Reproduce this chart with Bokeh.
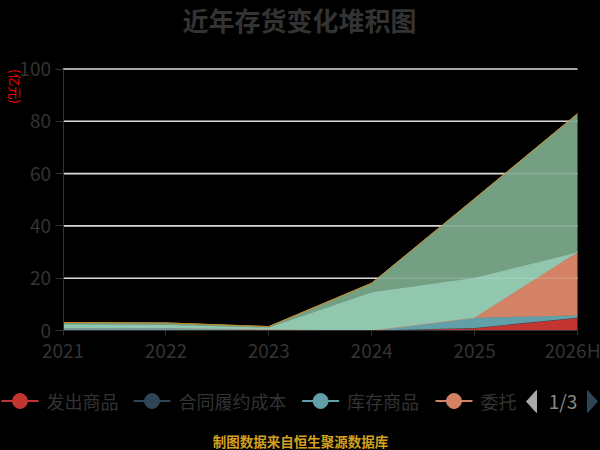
from bokeh.plotting import figure
from bokeh.models import ColumnDataSource, Range1d, FixedTicker, Label
from bokeh.transform import stack
from bokeh.embed import file_html
from bokeh.resources import INLINE
from bokeh.core.properties import value
import math

# ---------------- data ----------------
categories = ["2021", "2022", "2023", "2024", "2025", "2026H"]
s_fachu = [0, 0, 0, 0, 1.0, 4.9]                    # 发出商品
s_hetong = [0, 0, 0, 0, 0, 0]                       # 合同履约成本
s_kucun = [1.0, 1.0, 0.4, 0, 3.9, 0.8]              # 库存商品
s_weituo = [0, 0, 0, 0, 0, 24.2]                    # 委托加工物资
s_yuancailiao = [1.3, 1.2, 0.7, 14.6, 15.3, 0]      # 原材料
s_zaichanpin = [0.75, 0.7, 0.4, 3.5, 30.2, 53.0]    # 在产品
s_zhouzhuan = [0, 0, 0, 0, 0, 0]                    # 周转材料
series_names = ["发出商品", "合同履约成本", "库存商品", "委托加工物资", "原材料", "在产品", "周转材料"]
series_values = [s_fachu, s_hetong, s_kucun, s_weituo, s_yuancailiao, s_zaichanpin, s_zhouzhuan]
legend_shown = ["发出商品", "合同履约成本", "库存商品", "委托"]
y_ticks = [0, 20, 40, 60, 80, 100]
colors = ["#c23531", "#2f4554", "#61a0a8", "#d48265", "#91c7ae", "#749f83", "#ca8622"]

FONT = "Noto Sans CJK SC"
W, H = 600, 450
# pixel layout of the plotting area
PX_LEFT, PX_RIGHT = 62.5, 577.0
PY_ZERO, PY_TOP = 330.0, 68.5

n = len(categories) - 1
ymax = y_ticks[-1]
DX = (PX_RIGHT - PX_LEFT) / n
DY = (PY_ZERO - PY_TOP) / ymax


def dx(px):
    return (px - PX_LEFT) / DX


def dy(py):
    return (PY_ZERO - py) / DY


fields = ["s%d" % i for i in range(len(series_values))]
data = {"x": list(range(len(categories)))}
for f, v in zip(fields, series_values):
    data[f] = v
src = ColumnDataSource(data)

p = figure(width=W, height=H, output_backend="svg", toolbar_location=None,
           x_range=Range1d(dx(0), dx(W)), y_range=Range1d(dy(H), dy(0)),
           min_border=0, min_border_left=0, min_border_right=0, min_border_top=0, min_border_bottom=0,
           background_fill_color="black", border_fill_color="black", outline_line_color=None)
p.grid.visible = False

# grid lines (under the areas)
p.segment(x0=0, y0=y_ticks[1:], x1=n, y1=y_ticks[1:], line_color="#d0d0d0", line_width=1.6)

for i, f in enumerate(fields):
    y1 = 0 if i == 0 else stack(*fields[:i])
    p.varea(x="x", y1=y1, y2=stack(*fields[:i + 1]), source=src, fill_color=colors[i], fill_alpha=1.0)
    p.line(x="x", y=stack(*fields[:i + 1]), source=src, line_color=colors[i], line_width=1)

# faint grid showing through the areas
p.segment(x0=0, y0=y_ticks[1:], x1=n, y1=y_ticks[1:], line_color="#ffffff", line_alpha=0.15, line_width=1.6)

p.xaxis.fixed_location = 0
p.yaxis.fixed_location = 0
p.xaxis.bounds = (0, n)
p.yaxis.bounds = (0, ymax)
p.xaxis.ticker = FixedTicker(ticks=list(range(len(categories))))
p.xaxis.major_label_overrides = {i: c for i, c in enumerate(categories)}
p.yaxis.ticker = FixedTicker(ticks=y_ticks)
for ax in (p.xaxis, p.yaxis):
    ax.axis_line_color = "#333333"
    ax.major_tick_line_color = "#333333"
    ax.minor_tick_line_color = None
    ax.major_tick_in = 0
    ax.major_label_text_font = FONT
    ax.major_label_text_font_size = "19px"
    ax.major_label_text_color = "#333333"
p.xaxis.major_tick_out = 5
p.xaxis.major_label_standoff = 0
p.yaxis.major_tick_out = 8
p.yaxis.major_label_standoff = 4

# title and unit
p.add_layout(Label(x=dx(299), y=dy(18.5), text="近年存货变化堆积图", text_align="center",
                   text_baseline="middle", text_font=FONT, text_font_size="26px",
                   text_font_style="bold", text_color="#333333"))
p.add_layout(Label(x=dx(15.3), y=dy(86), text="(亿元)", text_align="center",
                   text_baseline="middle", text_font=FONT, text_font_size="13px",
                   text_color="#ff0000", angle=-math.pi / 2))

# legend (first page of a scrolling legend)
item_px = [1, 133, 301.6, 435]
LY = 400.5
for i, name in enumerate(legend_shown):
    x0 = item_px[i]
    p.segment(x0=[dx(x0)], y0=[dy(LY)], x1=[dx(x0 + 37)], y1=[dy(LY)], line_color=colors[i], line_width=2)
    p.scatter(x=[dx(x0 + 18.5)], y=[dy(LY)], size=15, marker="circle",
              fill_color=colors[i], line_color=colors[i])
    p.text(x=[dx(x0 + 45)], y=[dy(LY)], text=[name], text_baseline="middle", text_align="left",
           text_font=value(FONT), text_font_size="18px", text_color="#333333")

p.patch(x=[dx(526), dx(536), dx(536)], y=[dy(401), dy(390), dy(412)],
        fill_color="#aaaaaa", line_color="#aaaaaa")
p.patch(x=[dx(597), dx(587), dx(587)], y=[dy(401), dy(390), dy(412)],
        fill_color="#2f4554", line_color="#2f4554")
p.text(x=[dx(562.5)], y=[dy(400)], text=["1/3"], text_baseline="middle", text_align="center",
       text_font=value(FONT), text_font_size="19px", text_color="#888888")

p.text(x=[dx(300)], y=[dy(440)], text=["制图数据来自恒生聚源数据库"], text_baseline="middle",
       text_align="center", text_font=value(FONT), text_font_size="13.5px",
       text_font_style="bold", text_color="#d4a020")

html = file_html(p, INLINE)
html = html.replace("<head>", "<head><style>html,body{background:#000000;}</style>", 1)
open("out.html", "w").write(html)
